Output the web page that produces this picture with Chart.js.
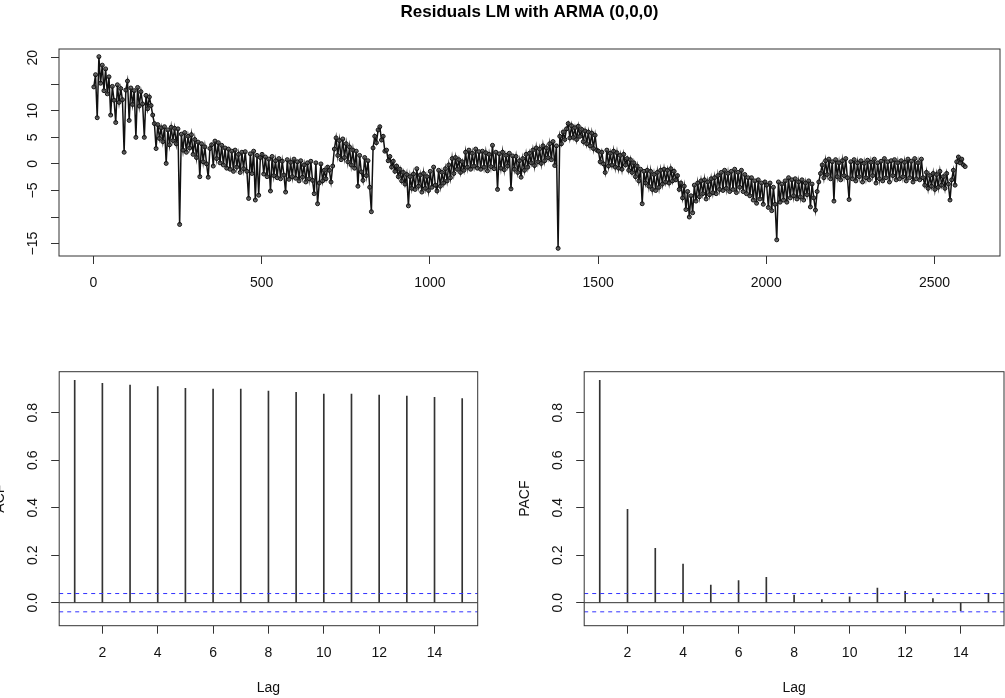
<!DOCTYPE html>
<html>
<head>
<meta charset="utf-8">
<title>Residuals LM with ARMA (0,0,0)</title>
<script src="https://cdn.jsdelivr.net/npm/chart.js@4.4.1/dist/chart.umd.min.js"></script>
<style>
  body { margin: 0; background: #fff; width: 1005px; height: 698px; overflow: hidden; position: relative; }
  canvas { position: absolute; }
  #resid { left: 0; top: 0; }
  #acf { left: -8px; top: 360px; }
  #pacf { left: 517px; top: 360px; }
</style>
</head>
<body>
<canvas id="resid" width="1005" height="300"></canvas>
<canvas id="acf" width="500" height="338"></canvas>
<canvas id="pacf" width="488" height="338"></canvas>
<script>
const residStart = 1;
const residStep = 5;
const residuals = [
  14.5, 16.8, 8.7, 20.2, 15.2, 18.6, 13.8, 17.9, 13.2, 16.4,
  9.2, 14.6, 12.0, 7.8, 14.9, 11.6, 14.2, 12.1, 2.2, 13.9,
  15.6, 8.2, 14.3, 11.2, 13.8, 5.0, 14.4, 10.9, 13.6, 11.3,
  5.0, 12.9, 10.4, 12.6, 11.0, 9.2, 7.6, 2.9, 7.4, 4.8,
  6.8, 4.2, 7.0, 0.1, 6.4, 3.6, 6.9, 4.4, 6.7, 3.8,
  6.6, -11.4, 5.6, 2.6, 5.9, 2.2, 5.2, 3.0, 5.5, 1.8,
  4.6, 1.2, 4.1, -2.4, 3.8, 0.4, 3.2, 0.0, -2.5, 2.9,
  3.6, -0.4, 4.3, 1.0, 4.0, 0.2, 3.5, -0.2, 3.0, -0.8,
  2.8, -1.0, 2.4, -1.4, 2.6, -0.6, 1.8, -1.6, 2.2, -0.9,
  2.3, -1.4, -6.5, 1.9, -1.8, 2.4, -6.8, 1.6, -5.9, 1.2,
  1.8, -1.9, 1.3, -2.4, 0.9, -5.1, 1.4, -2.2, 0.6, -2.6,
  1.0, -2.8, 0.5, -2.1, -5.3, 0.8, -2.9, 0.3, -2.4, 0.9,
  -2.7, 0.4, -3.2, 0.6, -2.5, -0.2, -3.4, 0.2, -2.8, 0.5,
  -3.1, -5.6, 0.2, -7.5, -3.6, 0.0, -3.2, -1.2, -2.8, -0.6,
  -1.2, -3.4, -0.4, 2.8, 4.9, 1.6, 4.4, 0.8, 4.7, 1.2,
  3.8, 0.4, 3.2, -0.2, 2.6, -0.8, 2.4, -4.2, 1.6, -1.5,
  -3.1, 1.2, -2.2, 0.6, -4.4, -9.0, 3.0, 5.2, 4.0, 6.4,
  7.0, 4.5, 5.2, 2.4, 2.6, 0.6, 1.4, -0.6, 0.5, -1.4,
  -0.4, -2.4, -1.0, -3.2, -1.6, -3.8, -2.0, -7.9, -2.4, -4.6,
  -1.9, -4.8, -0.9, -4.2, -2.1, -5.3, -1.8, -4.6, -2.4, -5.0,
  -1.4, -4.4, -0.6, -4.0, -5.1, -1.2, -4.2, -1.6, -3.6, -0.9,
  -3.2, -0.2, -2.6, 1.0, -1.8, 1.2, -1.0, 0.8, -1.6, 0.4,
  -1.2, 2.2, -0.6, 2.6, -1.0, 2.0, -0.4, 2.8, -0.8, 2.3,
  -1.0, 2.4, -0.6, 2.1, -1.3, 1.8, -0.5, 3.5, -0.9, 2.2,
  -4.8, 1.9, -0.8, 2.2, -1.1, 1.6, -0.4, 2.0, -4.7, 1.5,
  -1.0, 1.4, -1.6, 0.6, -2.5, 1.0, -1.2, 1.8, -0.6, 2.0,
  0.2, 2.6, -0.3, 3.0, 0.4, 2.8, 0.1, 3.4, 0.6, 3.0,
  1.2, 3.8, 0.8, 4.2, -0.3, 3.4, -15.9, 5.2, 3.8, 6.0,
  4.6, 6.6, 7.6, 4.9, 7.2, 5.0, 6.8, 4.6, 7.1, 5.2,
  6.5, 4.2, 6.2, 3.8, 6.0, 3.4, 5.8, 2.9, 5.4, 2.6,
  2.4, 0.4, 2.2, 0.0, -1.6, 2.6, -0.4, 2.0, -0.2, 2.4,
  -0.6, 2.1, -0.8, 1.6, -1.0, 1.8, -0.2, 1.0, -1.2, 0.8,
  -1.6, 0.2, -2.4, -0.4, -3.2, -1.0, -7.5, -1.4, -3.6, -1.2,
  -4.2, -1.4, -4.8, -2.0, -5.0, -1.6, -4.4, -1.2, -3.8, -1.0,
  -3.4, -1.2, -3.6, -0.9, -3.2, -1.4, -3.0, -2.2, -4.8, -3.6,
  -6.4, -4.2, -8.6, -5.2, -10.0, -6.0, -9.2, -4.0, -7.0, -3.6,
  -6.2, -3.2, -5.6, -3.0, -6.6, -3.4, -5.8, -2.8, -5.4, -2.6,
  -5.6, -2.2, -4.8, -1.6, -5.0, -1.2, -4.6, -1.8, -5.2, -1.4,
  -4.8, -1.0, -5.4, -1.6, -4.4, -1.2, -5.2, -2.0, -5.6, -2.6,
  -6.0, -2.6, -6.8, -3.2, -7.4, -3.0, -6.6, -3.6, -7.6, -3.4,
  -4.0, -8.2, -3.6, -8.8, -4.4, -7.6, -14.3, -3.4, -7.2, -3.8,
  -6.8, -3.2, -7.2, -2.6, -6.4, -3.0, -6.0, -2.8, -6.6, -3.4,
  -6.2, -3.0, -6.8, -3.6, -5.8, -3.2, -8.1, -3.8, -6.4, -8.7,
  -5.2, -3.4, -1.8, -0.2, -2.6, 0.6, -2.0, 0.9, -2.8, 0.4,
  -7.0, 0.8, -2.4, 0.2, -3.0, 0.6, -2.2, 1.0, -2.6, -6.7,
  0.4, -2.8, 0.8, -3.2, 0.2, -2.4, 0.6, -3.4, 0.1, -2.6,
  0.7, -3.0, 0.3, -2.2, 0.9, -3.6, 0.2, -2.8, 0.5, -3.2,
  1.0, -2.6, 0.4, -3.4, 0.6, -2.2, 0.8, -3.0, 0.2, -2.8,
  0.6, -2.4, 0.3, -3.2, 0.9, -2.6, 0.5, -3.4, 1.0, -2.8,
  0.2, -3.0, 0.9, -2.6, -4.0, -1.6, -4.6, -2.2, -4.2, -1.8,
  -4.8, -2.0, -4.4, -1.4, -4.0, -2.4, -4.6, -1.8, -3.8, -6.8,
  -3.0, -1.2, -4.0, 0.4, 1.3, 0.2, 0.9, -0.2, -0.5
];
const residXTicks = [0, 500, 1000, 1500, 2000, 2500];
const residYTicks = [-15, -10, -5, 0, 5, 10, 15, 20];
const residYUnlabelled = [15, -10]; // R drops these labels (no room)

const lags = [1, 2, 3, 4, 5, 6, 7, 8, 9, 10, 11, 12, 13, 14, 15];
const acfValues = [0.937, 0.924, 0.917, 0.910, 0.903, 0.900, 0.900, 0.891, 0.886, 0.879, 0.879, 0.874, 0.870, 0.865, 0.860];
const pacfValues = [0.937, 0.393, 0.229, 0.163, 0.074, 0.093, 0.107, 0.032, 0.013, 0.025, 0.062, 0.048, 0.017, -0.034, 0.039];
const ciBound = 0.0385;
const lagTicks = [2, 4, 6, 8, 10, 12, 14];
const corrYTicks = [0, 0.2, 0.4, 0.6, 0.8];
const corrYMin = -0.097;
const corrYMax = 0.973;

Chart.defaults.font.family = "'Liberation Sans', Arial, sans-serif";
Chart.defaults.font.size = 14;
Chart.defaults.color = '#111';

const INK = '#333';
const CI_BLUE = 'rgb(50,50,255)';

// plain box around the plot region, like R's box()
const framePlugin = {
  id: 'frame',
  afterDraw(chart) {
    const { ctx, chartArea: a } = chart;
    ctx.save();
    ctx.strokeStyle = INK;
    ctx.lineWidth = 1;
    ctx.strokeRect(a.left, a.top, a.right - a.left, a.bottom - a.top);
    ctx.restore();
  }
};

function fixWidth(w) {
  return s => { s.width = w; s.paddingTop = 0; s.paddingBottom = 0; };
}
function fixHeight(h) {
  return s => { s.height = h; s.paddingLeft = 0; s.paddingRight = 0; };
}
function setTicks(values) {
  return s => { s.ticks = values.map(v => ({ value: v })); };
}
function minus(v) {
  return String(v).replace('-', '\u2212');
}
// R pads the data range by 4% on each side
function padRange(lo, hi) {
  const d = (hi - lo) * 0.04;
  return [lo - d, hi + d];
}

const tickGrid = { drawOnChartArea: false, drawTicks: true, tickLength: 8, color: INK, lineWidth: 1 };

// top panel: residual series
const residPoints = residuals.map((v, i) => ({ x: residStart + i * residStep, y: v }));
const [tMin, tMax] = padRange(residStart, residStart + (residuals.length - 1) * residStep);
const [rMin, rMax] = padRange(Math.min(...residuals), Math.max(...residuals));

new Chart(document.getElementById('resid'), {
  type: 'line',
  data: {
    datasets: [{
      data: residPoints,
      borderColor: '#111',
      borderWidth: 1.5,
      pointRadius: 2,
      pointBorderWidth: 1,
      pointBorderColor: '#111',
      pointBackgroundColor: 'rgba(70,70,70,0.8)',
      tension: 0
    }]
  },
  options: {
    responsive: false,
    animation: false,
    events: [],
    layout: { padding: { left: 0, right: 4, top: 0, bottom: 0 } },
    plugins: {
      legend: { display: false },
      tooltip: { enabled: false },
      title: {
        display: true,
        fullSize: false,
        text: 'Residuals LM with ARMA (0,0,0)',
        color: '#000',
        font: { size: 17, weight: 'bold' },
        padding: { top: 2, bottom: 26.6 }
      }
    },
    scales: {
      x: {
        type: 'linear',
        min: tMin,
        max: tMax,
        grid: tickGrid,
        border: { display: false },
        afterBuildTicks: setTicks(residXTicks),
        afterFit: fixHeight(44),
        ticks: { autoSkip: false, maxRotation: 0, padding: 11, callback: v => String(v) }
      },
      y: {
        min: rMin,
        max: rMax,
        grid: tickGrid,
        border: { display: false },
        afterBuildTicks: setTicks(residYTicks),
        afterFit: fixWidth(59),
        ticks: {
          autoSkip: false, minRotation: 90, maxRotation: 90, crossAlign: 'center', padding: 6,
          callback: v => residYUnlabelled.includes(v) ? '' : minus(v)
        }
      }
    }
  },
  plugins: [framePlugin]
});

// bottom panels: ACF and PACF
const [lagMin, lagMax] = padRange(lags[0], lags[lags.length - 1]);

function corrChart(id, values, label, rightPad) {
  return new Chart(document.getElementById(id), {
    type: 'bar',
    data: {
      datasets: [
        {
          type: 'line',
          data: [{ x: lagMin, y: 0 }, { x: lagMax, y: 0 }],
          borderColor: INK, borderWidth: 1, pointRadius: 0
        },
        {
          type: 'line',
          data: [{ x: lagMin, y: ciBound }, { x: lagMax, y: ciBound }],
          borderColor: CI_BLUE, borderWidth: 1, borderDash: [4, 4], pointRadius: 0
        },
        {
          type: 'line',
          data: [{ x: lagMin, y: -ciBound }, { x: lagMax, y: -ciBound }],
          borderColor: CI_BLUE, borderWidth: 1, borderDash: [4, 4], pointRadius: 0
        },
        {
          data: lags.map((l, i) => ({ x: l, y: values[i] })),
          backgroundColor: '#333',
          barThickness: 1
        }
      ]
    },
    options: {
      responsive: false,
      animation: false,
      events: [],
      layout: { padding: { left: 0, right: rightPad, top: 11.7, bottom: 0 } },
      plugins: { legend: { display: false }, tooltip: { enabled: false } },
      scales: {
        x: {
          type: 'linear',
          min: lagMin,
          max: lagMax,
          offset: false,
          grid: Object.assign({ offset: false }, tickGrid),
          border: { display: false },
          afterBuildTicks: setTicks(lagTicks),
          afterFit: fixHeight(72.3),
          ticks: { autoSkip: false, maxRotation: 0, padding: 11 },
          title: { display: true, text: 'Lag', color: '#111', padding: { top: 0, bottom: 1 } }
        },
        y: {
          min: corrYMin,
          max: corrYMax,
          grid: tickGrid,
          border: { display: false },
          afterBuildTicks: setTicks(corrYTicks),
          afterFit: fixWidth(67.2),
          ticks: {
            autoSkip: false, minRotation: 90, maxRotation: 90, crossAlign: 'center', padding: 8,
            callback: v => v.toFixed(1)
          },
          title: { display: true, text: label, color: '#111', padding: { top: 0, bottom: 0 } }
        }
      }
    },
    plugins: [framePlugin]
  });
}

corrChart('acf', acfValues, 'ACF', 14.3);
corrChart('pacf', pacfValues, 'PACF', 1);
</script>
</body>
</html>
